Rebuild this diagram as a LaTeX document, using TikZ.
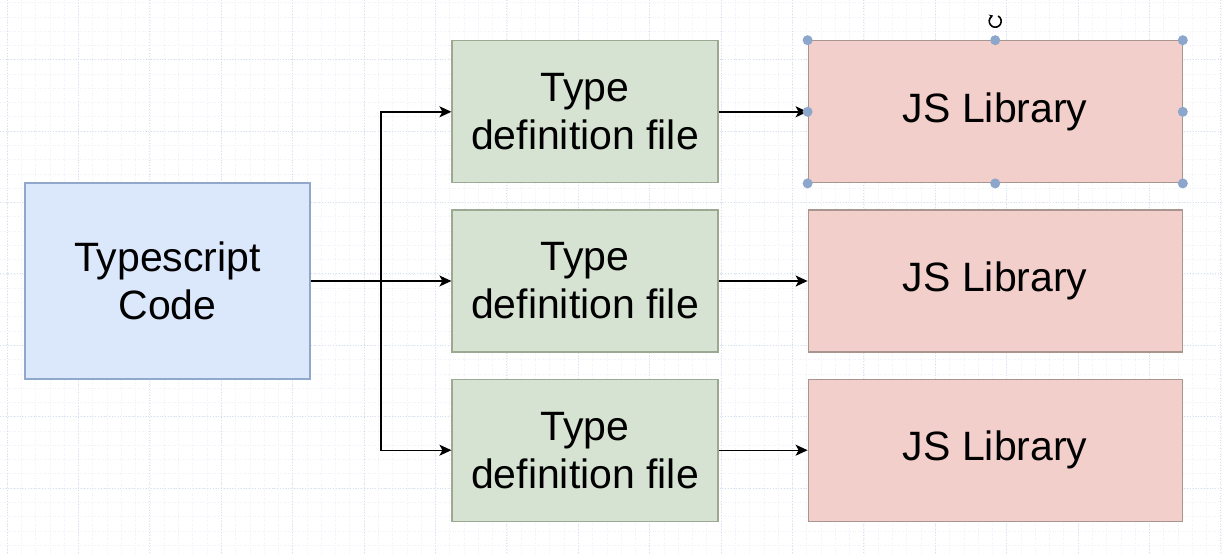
\documentclass[tikz,border=0pt]{standalone}
\usepackage{fontspec}
\setmainfont{Liberation Sans}
\usetikzlibrary{positioning,arrows.meta}

\definecolor{tsfill}{HTML}{DBE7FB}
\definecolor{tsline}{HTML}{8FA8CC}
\definecolor{defill}{HTML}{D6E3D2}
\definecolor{deline}{HTML}{9DA893}
\definecolor{libfill}{HTML}{F2CFCA}
\definecolor{libline}{HTML}{A89590}
\definecolor{gridmaj}{HTML}{D6E0EF}
\definecolor{gridmin}{HTML}{EEF2F8}
\definecolor{handle}{HTML}{8CA6CC}

\tikzset{
  box/.style={draw, line width=1.2pt, inner sep=0pt, align=center,
    font=\fontsize{41}{48}\selectfont},
  tsbox/.style={box, fill=tsfill, draw=tsline, minimum width=285, minimum height=196},
  defbox/.style={box, fill=defill, draw=deline, minimum width=266, minimum height=142},
  libbox/.style={box, fill=libfill, draw=libline, minimum width=374, minimum height=142},
  conn/.style={line width=1.4pt, -{Stealth[length=12pt,width=11pt,inset=3pt]}},
  hdl/.style={circle, fill=handle, inner sep=0pt, minimum size=10pt}
}

\begin{document}
\begin{tikzpicture}[x=1pt, y=-1pt, node distance=26pt]

  \useasboundingbox (0,0) rectangle (1223,554);
  \fill[white] (0,0) rectangle (1223,554);

  % Grid
  \foreach \gx in {7,21.28,...,1223}
    \draw[gridmin, dotted, line width=0.5pt] (\gx,0) -- (\gx,554);
  \foreach \gy in {2.5,16.78,...,554}
    \draw[gridmin, dotted, line width=0.5pt] (0,\gy) -- (1223,\gy);
  \foreach \gx in {7,78.4,...,1223}
    \draw[gridmaj, dotted, line width=0.8pt] (\gx,0) -- (\gx,554);
  \foreach \gy in {59.6,131,...,554}
    \draw[gridmaj, dotted, line width=0.8pt] (0,\gy) -- (1223,\gy);

  % Typescript code
  \node[tsbox] (ts) at (167.5,281) {Typescript\\Code}; %

  % Type definition files
  \node[defbox] (def2) at (585,281) {Type\\definition file}; %
  \node[defbox, above=of def2] (def1) {Type\\definition file}; %
  \node[defbox, below=of def2] (def3) {Type\\definition file}; %

  % JS libraries
  \node[libbox, right=89pt of def1] (lib1) {JS Library}; %
  \node[libbox, right=89pt of def2] (lib2) {JS Library}; %
  \node[libbox, right=89pt of def3] (lib3) {JS Library}; %

  % Connections
  \coordinate (br) at (381,281); %
  \draw[conn] (ts) -- (def2); %
  \draw[conn] (br) |- (def1); %
  \draw[conn] (br) |- (def3); %
  \foreach \i in {1,2,3}
    \draw[conn] (def\i) -- (lib\i); %

  % Selection handles
  \foreach \a in {north west,north,north east,east,south east,south,south west,west}
    \node[hdl] at (lib1.\a) {}; %
  \coordinate (rot) at ([yshift=19pt]lib1.north); %
  \draw[line width=1.6pt, -{Stealth[length=4pt,width=5pt]}]
    ([shift={(60:6pt)}]rot) arc[start angle=60, end angle=-250, radius=6pt]; %

\end{tikzpicture}
\end{document}
